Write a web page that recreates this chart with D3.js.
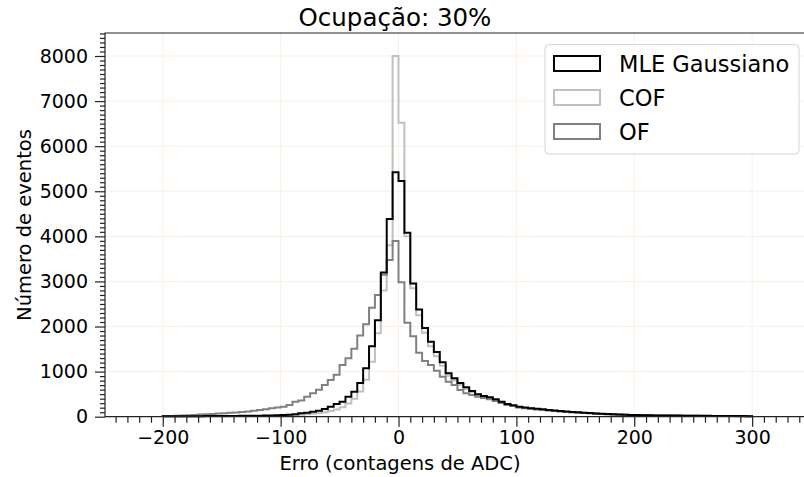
<!DOCTYPE html>
<html>
<head>
<meta charset="utf-8">
<script src="https://cdn.jsdelivr.net/npm/d3@7"></script>
<style>
  body { margin: 0; background: #fff; }
  svg { display: block; font-family: "DejaVu Sans", sans-serif; }
</style>
</head>
<body>
<svg id="chart" width="804" height="477"></svg>
<script>
(function() {
'use strict';

// histogram bins: 5 counts wide, from -200 to 300
var binStart = -200;
var binWidth = 5;

var mleCounts = [
    8, 9, 10, 10, 11, 12, 12, 13, 14, 15, 16, 17, 18, 19, 20, 21, 23, 25, 27, 30,
    35, 42, 55, 75, 89, 111, 133, 170, 222, 282,
    333, 444, 555, 750, 1073, 1560, 2140, 3200, 4385, 5420,
    5230, 4080, 2955, 2375, 1970, 1663, 1435, 1205, 962, 855,
    750, 655, 570, 500, 460, 430, 386, 333, 282, 253,
    222, 205, 190, 175, 163, 150, 138, 126, 115, 105,
    97, 88, 80, 72, 65, 58, 53, 48, 43, 39,
    35, 33, 31, 29, 28, 26, 25, 24, 23, 22, 21, 20, 19, 18, 17, 16, 15, 14, 13, 12
];

var cofCounts = [
    6, 7, 7, 8, 8, 9, 9, 10, 11, 11, 12, 13, 14, 15, 16, 17, 18, 20, 22, 24,
    27, 31, 37, 45, 55, 67, 82, 100, 125, 160,
    210, 290, 400, 560, 820, 1220, 1850, 2800, 3800, 8000,
    6520, 4000, 2850, 2250, 1860, 1560, 1340, 1130, 910, 810,
    710, 620, 540, 475, 435, 400, 360, 310, 265, 240,
    210, 195, 180, 166, 154, 142, 130, 119, 109, 100,
    92, 84, 76, 69, 62, 56, 51, 46, 41, 37,
    34, 32, 30, 28, 27, 25, 24, 23, 22, 21, 20, 19, 18, 17, 16, 15, 14, 13, 12, 11
];

var ofCounts = [
    15, 18, 20, 25, 30, 38, 48, 55, 62, 70, 78, 85, 95, 105, 115, 130, 150, 165, 185, 205,
    222, 259, 333, 360, 444, 519, 600, 703, 814, 930,
    1147, 1295, 1505, 1800, 2053, 2415, 2700, 3150, 3475, 3897,
    2980, 2086, 1782, 1416, 1238, 1147, 1017, 887, 776, 703,
    592, 519, 480, 445, 415, 385, 350, 305, 262, 235,
    205, 190, 176, 162, 150, 138, 127, 116, 106, 97,
    89, 81, 74, 67, 61, 55, 50, 45, 41, 37,
    33, 31, 29, 27, 26, 24, 23, 22, 21, 20, 19, 18, 17, 16, 15, 14, 13, 12, 11, 10
];

var seriesNames = ['MLE Gaussiano', 'COF', 'OF'];
var xTicks = [-200, -100, 0, 100, 200, 300];
var yTicks = [0, 1000, 2000, 3000, 4000, 5000, 6000, 7000, 8000];

var series = [
    { name: seriesNames[0], counts: mleCounts, color: '#000000', width: 2 },
    { name: seriesNames[1], counts: cofCounts, color: '#c0c0c0', width: 2 },
    { name: seriesNames[2], counts: ofCounts, color: '#808080', width: 2 }
];

var svg = d3.select('#chart');
var left = 105, right = 804, top = 33, bottom = 416.7;

var x = d3.scaleLinear().domain([-249, 344]).range([left, right]);
var y = d3.scaleLinear().domain([0, 8510]).range([bottom, top]);

// grid
var grid = svg.append('g').attr('stroke', '#fcefe3').attr('stroke-width', 1);
grid.selectAll('line.gx').data(xTicks).enter().append('line')
    .attr('x1', function (d) { return x(d); }).attr('x2', function (d) { return x(d); })
    .attr('y1', top).attr('y2', bottom);
grid.selectAll('line.gy').data(yTicks.slice(1)).enter().append('line')
    .attr('x1', left).attr('x2', right)
    .attr('y1', function (d) { return y(d); }).attr('y2', function (d) { return y(d); });

// step histograms
var line = d3.line()
    .x(function (p) { return x(p[0]); })
    .y(function (p) { return y(p[1]); })
    .curve(d3.curveStepAfter);

function stepPoints(counts) {
    var pts = [[binStart, 0]];
    counts.forEach(function (c, i) { pts.push([binStart + i * binWidth, c]); });
    pts.push([binStart + counts.length * binWidth, 0]);
    return pts;
}

[series[1], series[2], series[0]].forEach(function (s) {
    svg.append('path')
        .attr('d', line(stepPoints(s.counts)))
        .attr('fill', 'none')
        .attr('stroke', s.color)
        .attr('stroke-width', s.width)
        .attr('stroke-linejoin', 'miter');
});

// axes
var xMinor = d3.range(-240, 345, 10).filter(function (d) { return d % 100 !== 0; });
var yMinor = d3.range(0, 8510, 100).filter(function (d) { return d % 1000 !== 0; });

svg.append('g')
    .attr('transform', 'translate(0,' + bottom + ')')
    .call(d3.axisBottom(x).tickValues(xMinor).tickSize(6).tickFormat(''))
    .call(function (g) { g.select('.domain').remove(); });

svg.append('g')
    .attr('transform', 'translate(' + left + ',0)')
    .call(d3.axisLeft(y).tickValues(yMinor).tickSize(5).tickFormat(''))
    .call(function (g) { g.select('.domain').remove(); });

var xAxis = svg.append('g')
    .attr('transform', 'translate(0,' + bottom + ')')
    .call(d3.axisBottom(x).tickValues(xTicks).tickSize(10).tickPadding(4));
xAxis.select('.domain').remove();
xAxis.selectAll('text').attr('font-size', 19).attr('font-family', '"DejaVu Sans"').attr('fill', '#000');

var yAxis = svg.append('g')
    .attr('transform', 'translate(' + left + ',0)')
    .call(d3.axisLeft(y).tickValues(yTicks).tickFormat(d3.format('d')).tickSize(10).tickPadding(7));
yAxis.select('.domain').remove();
yAxis.selectAll('text').attr('font-size', 19).attr('font-family', '"DejaVu Sans"').attr('fill', '#000');

svg.selectAll('.tick line').attr('stroke', '#222').attr('stroke-width', 1.2);

// spines
svg.append('path')
    .attr('d', 'M' + right + ',' + top + 'H' + left + 'V' + bottom + 'H' + right)
    .attr('fill', 'none').attr('stroke', '#222').attr('stroke-width', 1.2);

// labels
svg.append('text').attr('x', 395).attr('y', 26).attr('text-anchor', 'middle')
    .attr('font-size', 24.5).text('Ocupação: 30%');
svg.append('text').attr('x', 400).attr('y', 470).attr('text-anchor', 'middle')
    .attr('font-size', 19.5).text('Erro (contagens de ADC)');
svg.append('text').attr('transform', 'translate(31,225) rotate(-90)').attr('text-anchor', 'middle')
    .attr('font-size', 19.5).text('Número de eventos');

// legend
var legend = svg.append('g');
legend.append('rect')
    .attr('x', 545).attr('y', 44.5).attr('width', 254).attr('height', 109.5)
    .attr('rx', 4).attr('fill', '#fff').attr('fill-opacity', 0.85)
    .attr('stroke', '#d6d6d6').attr('stroke-width', 1);

var items = legend.selectAll('g.item').data(series).enter().append('g')
    .attr('transform', function (d, i) { return 'translate(0,' + (i * 34) + ')'; });
items.append('rect')
    .attr('x', 554).attr('y', 56).attr('width', 46).attr('height', 15)
    .attr('fill', 'none')
    .attr('stroke', function (d) { return d.color; })
    .attr('stroke-width', 2);
items.append('text')
    .attr('x', 619).attr('y', 71.5)
    .attr('font-size', 22.5)
    .text(function (d) { return d.name; });

})();
</script>
</body>
</html>
